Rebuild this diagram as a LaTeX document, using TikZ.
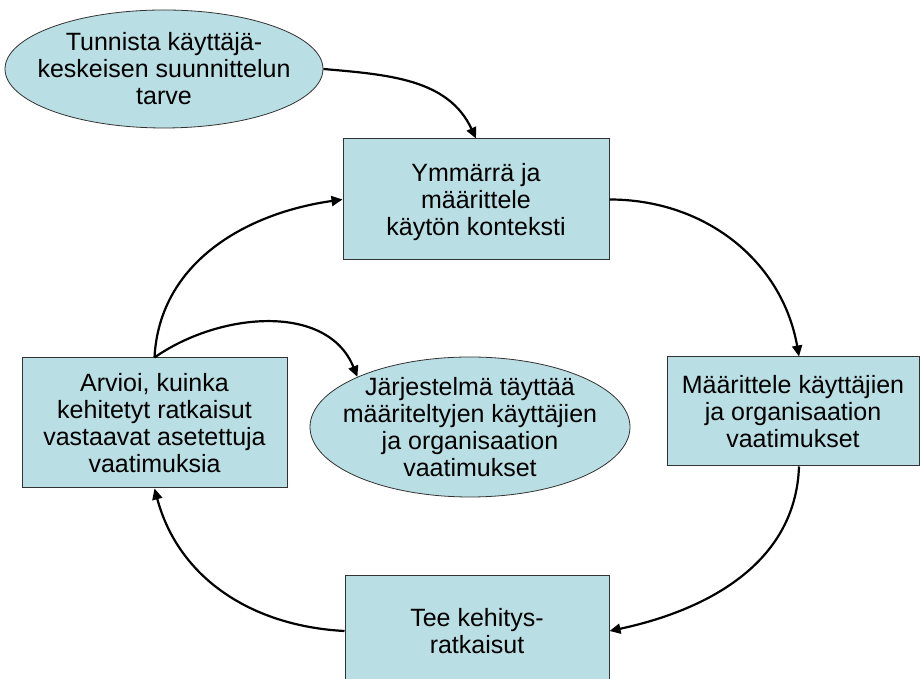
\documentclass[tikz,border=0pt]{standalone}
\usepackage{fontspec}
\setmainfont{Liberation Sans}
\usetikzlibrary{shapes.geometric,arrows.meta}
\definecolor{stagefill}{RGB}{185,222,227}
\definecolor{stageline}{RGB}{50,50,50}
\begin{document}
\begin{tikzpicture}[x=1pt,y=1pt,
  every node/.style={font=\fontsize{25}{27}\selectfont, align=center, inner sep=0pt},
  stagebox/.style={rectangle, draw=stageline, line width=1pt, fill=stagefill},
  goal/.style={ellipse, draw=stageline, line width=0.8pt, fill=stagefill},
  flow/.style={line width=2.2pt, -{Triangle[length=11pt,width=10pt]}}]
\useasboundingbox (0,0) rectangle (921,679);
\begin{scope}
\clip (0,0) rectangle (921,679);
% start and goal ellipses, with their texts laid on top
\node[goal, minimum width=318, minimum height=118] (need) at (164,610) {};
\node (needtext) at (need.center)
  {Tunnista käyttäjä-\\keskeisen suunnittelun\\tarve};
\node[goal, minimum width=320, minimum height=140] (meets) at (470,252) {};
\node (meetstext) at (meets.center)
  {Järjestelmä täyttää\\määriteltyjen käyttäjien\\ja organisaation\\vaatimukset};
% process stages
\node[stagebox, minimum width=266, minimum height=121] (context) at (476,479.5) {};
\node (contexttext) at ([yshift=-3pt]context.center)
  {Ymmärrä ja\\määrittele\\käytön konteksti};
\node[stagebox, minimum width=252, minimum height=109] (reqs) at (793,267.5)
  {Määrittele käyttäjien\\ja organisaation\\vaatimukset};
\node[stagebox, minimum width=264, minimum height=110] (design) at (477,48)
  {Tee kehitys-\\ratkaisut};
\node[stagebox, minimum width=265, minimum height=130] (evaluate) at (154.5,256)
  {Arvioi, kuinka\\kehitetyt ratkaisut\\vastaavat asetettuja\\vaatimuksia};
\end{scope}
% cycle connectors
\draw[flow] (need.east) to[out=-5, in=115] (context.north);
\draw[flow] (context.east) to[out=0, in=100] ([xshift=6pt]reqs.north);
\draw[flow] ([xshift=6pt]reqs.south) to[out=-92, in=12] (design.east);
\draw[flow] (design.west) to[out=177, in=-75] (evaluate.south);
\draw[flow] (evaluate.north) to[out=87, in=188] (context.west);
\draw[flow] (evaluate.north) to[out=35, in=112] (meets.156);
\end{tikzpicture}
\end{document}
